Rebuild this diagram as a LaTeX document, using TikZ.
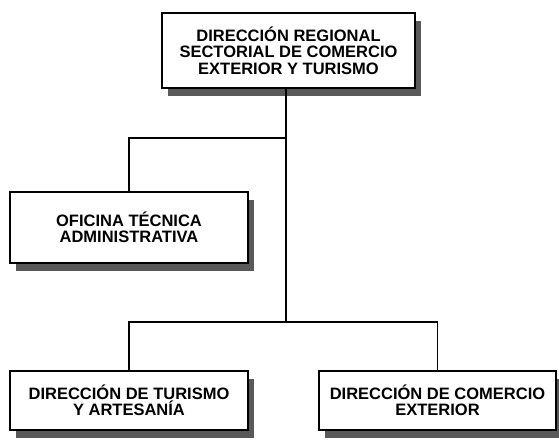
\documentclass[tikz,border=0pt]{standalone}
\usepackage{fontspec}
\setmainfont{Liberation Sans}
\usetikzlibrary{shadows}
\begin{document}
\begin{tikzpicture}[x=1pt,y=1pt,
  orgbox/.style={draw=black,line width=1.8pt,fill=white,inner sep=0pt,align=center,
    font=\fontsize{16.5}{16.5}\selectfont\bfseries,
    drop shadow={shadow xshift=6pt,shadow yshift=-8pt,fill=black!65,opacity=1}},
  conn/.style={line width=1.8pt}]
\useasboundingbox (0,0) rectangle (559,-444);
\node[orgbox,minimum width=253,minimum height=75] (top) at (288.5,-50.5)
  {DIRECCIÓN REGIONAL\\SECTORIAL DE COMERCIO\\EXTERIOR Y TURISMO};
\node[orgbox,minimum width=238,minimum height=71] (ofi) at (129,-227.5)
  {OFICINA TÉCNICA\\ADMINISTRATIVA};
\node[orgbox,minimum width=238,minimum height=59] (tur) at (129,-400.5)
  {DIRECCIÓN DE TURISMO\\Y ARTESANÍA};
\node[orgbox,minimum width=237,minimum height=59] (com) at (437.5,-400.5)
  {DIRECCIÓN DE COMERCIO\\EXTERIOR};
\coordinate (j1) at (286,-138);
\coordinate (j2) at (286,-322);
\draw[conn] (top.south -| j1) -- (j2);
\draw[conn] (j1) -| (ofi.north);
\draw[conn] (tur.north) |- (j2) -| (com.north);
\end{tikzpicture}
\end{document}
